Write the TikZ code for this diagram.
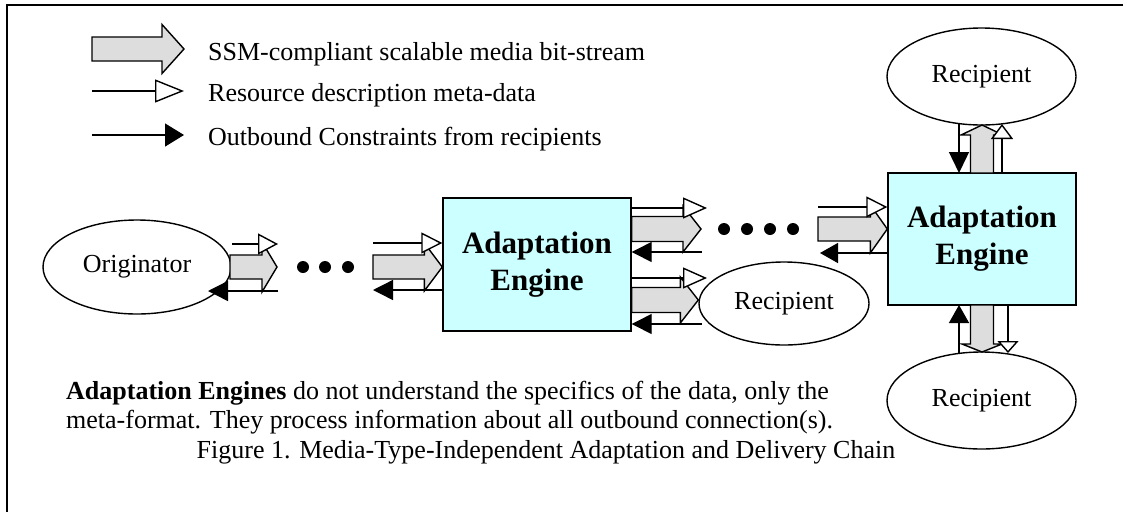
\documentclass[tikz,border=0pt]{standalone}
\usepackage{fontspec}
\setmainfont{Liberation Serif}
\usetikzlibrary{arrows.meta,calc,shapes.geometric}
\definecolor{engfill}{HTML}{CCFFFF}
\definecolor{streamgray}{HTML}{DDDDDD}
\tikzset{
  outline/.style={line width=1.4pt},
  bodyfont/.style={font=\fontsize{26}{30}\selectfont},
  engine/.style={draw, outline, fill=engfill, minimum width=188pt, minimum height=133pt,
    inner sep=0pt, align=center, font=\fontsize{31}{37}\selectfont\bfseries},
  party/.style={draw, outline, ellipse, fill=white, inner sep=0pt, bodyfont},
  label/.style={inner sep=0pt, bodyfont},
  dot/.style={circle, fill=black, minimum size=12pt, inner sep=0pt},
  fatbody/.style={draw, outline, fill=streamgray, line join=miter},
  meta/.style={outline, -{Triangle[length=#1, width=21pt, fill=white]}},
  meta/.default=22pt,
  cons/.style={outline, -{Triangle[length=#1, width=20pt]}},
  cons/.default=20pt
}
% fat stream arrow: from #1 to #2, head length #3, body half-width #4, head half-width #5
\newcommand\fatarrow[5]{%
  \coordinate (fatH) at ($(#2)!#3!(#1)$);
  \draw[fatbody] ($(#1)!#4!90:(#2)$) -- ($(fatH)!#4!90:(#2)$) -- ($(fatH)!#5!90:(#2)$)
    -- (#2) -- ($(fatH)!#5!-90:(#2)$) -- ($(fatH)!#4!-90:(#2)$) -- ($(#1)!#4!-90:(#2)$) -- cycle;}
\begin{document}
\begin{tikzpicture}[x=1pt, y=-1pt]
\useasboundingbox (0,0) rectangle (1127,512);
% frame
\draw[line width=1.5pt] (1123,5) -- (7,5) -- (7,512);

% legend
\coordinate (lgA1) at (92,49);  \coordinate (lgB1) at (184,49);
\coordinate (lgA2) at (92,91);  \coordinate (lgB2) at (184,91);
\coordinate (lgA3) at (92,135); \coordinate (lgB3) at (184,135);
\fatarrow{lgA1}{lgB1}{22pt}{12pt}{24.5pt}
\draw[outline, -{Triangle[length=29pt, width=23pt, fill=white]}] (lgA2) -- (lgB2);
\draw[outline, -{Triangle[length=19pt, width=23pt]}] (lgA3) -- (lgB3);
\node[label, anchor=base west] (lg1) at (208,60) {SSM-compliant scalable media bit-stream};
\node[label, anchor=base west] (lg2) at (208,101) {Resource description meta-data};
\node[label, anchor=base west] (lg3) at (208,145) {Outbound Constraints from recipients};

% nodes
\node[party, minimum width=188pt, minimum height=94pt] (orig) at (137,267) {Originator};
\node[engine] (eng1) at (537,264.5) {Adaptation\\Engine};
\node[engine, minimum height=132pt] (eng2) at (982,239) {Adaptation\\Engine};
\node[party, minimum width=170pt, minimum height=83pt] (rec1) at (784,303.5) {Recipient};
\node[party, minimum width=189pt, minimum height=97pt] (rec2) at (981.5,76.5) {Recipient};
\node[party, minimum width=189pt, minimum height=97pt] (rec3) at (981.5,400.5) {Recipient};

% dots
\foreach \x [count=\i] in {303,325,348} \node[dot] (ld\i) at (\x,267) {};
\foreach \x [count=\i] in {724,747,770,793} \node[dot] (rd\i) at (\x,229) {};

% originator outputs
\coordinate (o1) at (230,267); \coordinate (o2) at (277,267);
\fatarrow{o1}{o2}{15pt}{12pt}{25pt}
\coordinate (o3) at (232,244); \coordinate (o4) at (278,244);
\draw[meta=20pt] (o3) -- (o4);
\coordinate (o5) at (278,291); \coordinate (o6) at (208,291);
\draw[cons] (o5) -- (o6);

% into first engine
\coordinate (e1) at (373,267); \coordinate (e2) at (eng1.west |- e1);
\fatarrow{e1}{e2}{18pt}{12pt}{24pt}
\coordinate (e3) at (373,243); \coordinate (e4) at (eng1.west |- e3);
\draw[meta=21pt] (e3) -- (e4);
\coordinate (e5) at (eng1.west |- 0,290); \coordinate (e6) at (373,290);
\draw[cons] (e5) -- (e6);

% first engine, upper outputs
\coordinate (u1) at (eng1.east |- 0,229); \coordinate (u2) at (701,229);
\fatarrow{u1}{u2}{18pt}{12.5pt}{23pt}
\coordinate (u3) at (eng1.east |- 0,208); \coordinate (u4) at (707,208);
\draw[meta=24pt] (u3) -- (u4);
\coordinate (u5) at (702,252); \coordinate (u6) at (eng1.east |- u5);
\draw[cons] (u5) -- (u6);

% first engine, lower outputs to recipient
\coordinate (l1) at (eng1.east |- 0,300); \coordinate (l2) at (rec1.west |- l1);
\fatarrow{l1}{l2}{18pt}{12.5pt}{23pt}
\coordinate (l3) at (eng1.east |- 0,278); \coordinate (l4) at (707,278);
\draw[meta=24pt] (l3) -- (l4);
\coordinate (l5) at (702,324); \coordinate (l6) at (eng1.east |- l5);
\draw[cons] (l5) -- (l6);

% into second engine
\coordinate (r1) at (818,229); \coordinate (r2) at (eng2.west |- r1);
\fatarrow{r1}{r2}{17pt}{12pt}{24pt}
\coordinate (r3) at (818,207); \coordinate (r4) at (eng2.west |- r3);
\draw[meta=21pt] (r3) -- (r4);
\coordinate (r5) at (eng2.west |- 0,253); \coordinate (r6) at (820,253);
\draw[cons=18pt] (r5) -- (r6);

% second engine, upward to recipient
\coordinate (t1) at (982,173); \coordinate (t2) at (982,125);
\fatarrow{t1}{t2}{10pt}{11.5pt}{21pt}
\coordinate (t3) at (1002,173); \coordinate (t4) at (1002,124);
\draw[outline, -{Triangle[length=15pt, width=22pt, fill=white]}] (t3) -- (t4);
\coordinate (t5) at (959,124); \coordinate (t6) at (959,173);
\draw[cons=21pt] (t5) -- (t6);

% second engine, downward to recipient
\coordinate (b1) at (982,305); \coordinate (b2) at (982,352);
\fatarrow{b1}{b2}{8pt}{11.5pt}{20pt}
\coordinate (b3) at (1008,305); \coordinate (b4) at (1008,353);
\draw[outline, -{Triangle[length=12pt, width=21pt, fill=white]}] (b3) -- (b4);
\coordinate (b5) at (959,353); \coordinate (b6) at (959,305);
\draw[cons=18pt] (b5) -- (b6);

% notes and caption
\node[label, anchor=base west] (note1) at (66,399)
  {\textbf{Adaptation Engines} do not understand the specifics of the data, only the};
\node[label, anchor=base west] (note2) at (66,428)
  {meta-format. They process information about all outbound connection(s).};
\node[label, anchor=base] (caption) at (546,458)
  {Figure 1. Media-Type-Independent Adaptation and Delivery Chain};
\end{tikzpicture}
\end{document}
